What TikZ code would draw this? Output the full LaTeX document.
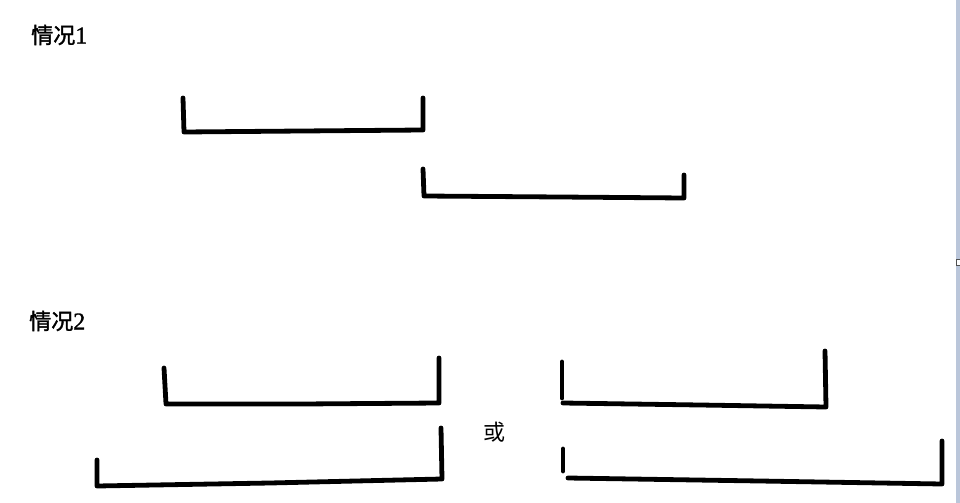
\documentclass[tikz,border=0pt]{standalone}
\usepackage{fontspec}
\newfontfamily\cjk{Noto Sans CJK SC}
\newfontfamily\cjkb{Noto Sans CJK SC}[FakeBold=1.6]
\newfontfamily\digitfont{Liberation Serif}[FakeBold=1.2]
\begin{document}
\begin{tikzpicture}[x=0.75pt,y=-0.75pt,
  stroke/.style={line width=3.6pt,line cap=round,line join=round,black},
  label/.style={inner sep=0pt,anchor=west,font=\cjkb\fontsize{16.5}{19}\selectfont},
  orlabel/.style={inner sep=0pt,anchor=center,font=\cjk\fontsize{16.5}{19}\selectfont}]
\useasboundingbox (0,0) rectangle (960,503);
\fill[white] (0,0) rectangle (960,503);
% right-hand window strip
\fill[fill={rgb,255:red,186;green,198;blue,218}] (956,0) rectangle (960,503);
\draw[line width=0.6pt,draw={rgb,255:red,80;green,80;blue,80},fill=white] (956.5,259) rectangle (960,265);
% labels
\node[label] (c1) at (31,35) {情况{\digitfont\fontsize{18}{19}\selectfont 1}};
\node[label] (c2) at (29,321) {情况{\digitfont\fontsize{18}{19}\selectfont 2}};
\node[orlabel] (or) at (494,432) {或};
% case 1
\draw[stroke] (183,98) -- (184,132) -- (302,131) -- (423,130) -- (423,98);
\draw[stroke] (423,169) -- (424,196) -- (560,197) -- (684,198) -- (684,175);
% case 2, left pair
\draw[stroke] (164,368) -- (166,404) -- (302,404) -- (439,403) -- (439,358);
\draw[stroke] (97,460) -- (97,486) -- (270,483) -- (442,479) -- (441,428);
% case 2, right pair
\draw[stroke] (562,362) -- (562,398);
\draw[stroke] (563,403) -- (700,405) -- (826,407) -- (825,351);
\draw[stroke] (563,449) -- (563,471);
\draw[stroke] (568,478) -- (760,481) -- (942,484) -- (942,441);
\end{tikzpicture}
\end{document}
